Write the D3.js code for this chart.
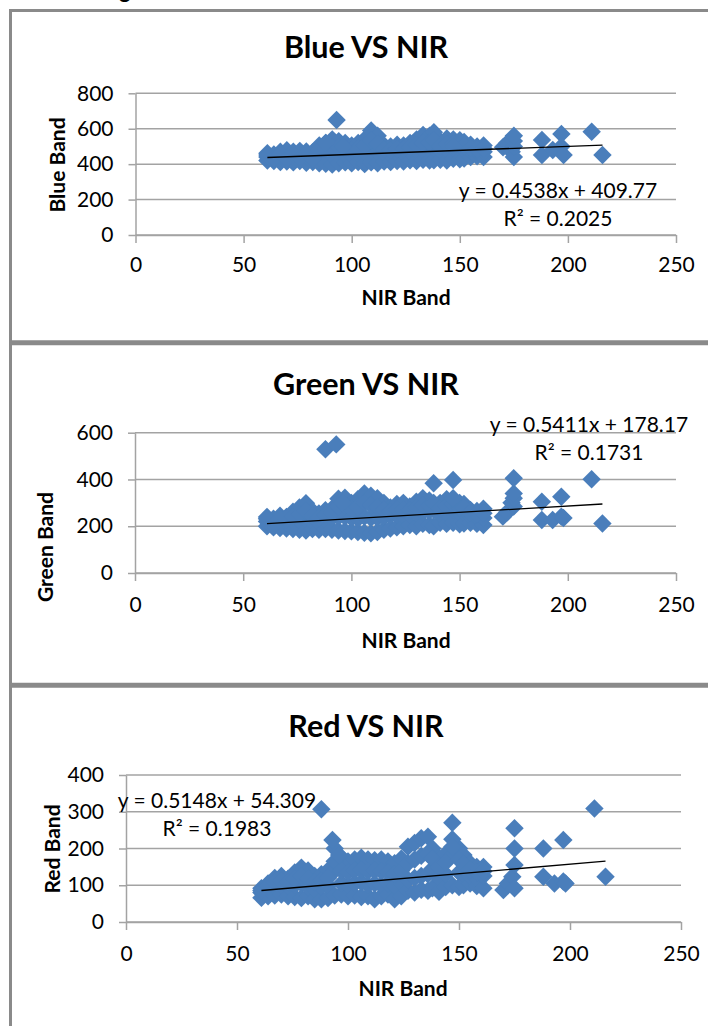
<!DOCTYPE html>
<html>
<head>
<meta charset="utf-8">
<script src="https://cdn.jsdelivr.net/npm/d3@7"></script>
<style>
  body { margin: 0; background: #fff; }
  text { font-family: Lato, 'Open Sans', sans-serif; fill: #000; }
</style>
</head>
<body>
<svg id="chart" width="708" height="1026"></svg>
<script>
// NIR band value of every pixel sample (shared by the three panels)
const nir = [
  61, 61, 61, 64, 64, 64, 67, 67, 67, 70, 70, 70, 73, 73, 73, 76, 76, 76,
  79, 79, 79, 82, 82, 82, 85, 85, 85, 88, 88, 88, 91, 91, 91, 94, 94, 94,
  97, 97, 97, 100, 100, 100, 103, 103, 103, 106, 106, 106, 109, 109, 109,
  112, 112, 112, 115, 115, 115, 118, 118, 118, 121, 121, 121, 124, 124, 124,
  127, 127, 127, 130, 130, 130, 133, 133, 133, 136, 136, 136, 138, 138, 138,
  141, 141, 141, 144, 144, 144, 147, 147, 147, 150, 150, 150, 152, 152, 152,
  155, 155, 155, 158, 158, 158, 161, 161, 161,
  61, 64, 67, 70, 73, 76, 79, 82, 85, 88, 91, 94, 97, 100, 103, 106, 109, 112,
  115, 118, 121, 124, 127, 130, 133, 136, 138, 141, 144, 147, 150, 152, 155, 158, 161,
  88, 93, 96, 147,
  170, 172, 174, 175, 175, 175, 175, 188, 188, 193, 197, 197, 198, 211, 216
];
const blue = [
  420, 440, 462, 418, 445, 455, 412, 440, 470, 415, 448, 478, 410, 440, 470, 418, 450, 475,
  408, 445, 472, 412, 448, 468, 405, 460, 505, 402, 455, 520, 398, 450, 540, 405, 460, 530,
  410, 455, 520, 405, 450, 505, 412, 460, 520, 400, 470, 540, 410, 480, 590,
  405, 470, 560, 415, 460, 505, 412, 455, 500, 418, 462, 510, 415, 465, 505,
  422, 470, 520, 418, 475, 540, 425, 480, 565, 420, 485, 560, 422, 490, 580,
  425, 475, 530, 420, 480, 545, 430, 490, 540, 428, 485, 535, 432, 480, 525,
  440, 475, 510, 445, 470, 500, 440, 470, 505,
  452, 432, 458, 430, 455, 435, 460, 430, 480, 488, 495, 495, 488, 478, 490, 505, 535, 515,
  482, 478, 485, 485, 495, 508, 520, 522, 535, 500, 512, 515, 510, 502, 492, 485, 488,
  520, 649, 500, 500,
  495, 520, 470, 440, 500, 530, 560, 536, 452, 480, 570, 500, 452, 583, 452
];
const green = [
  200, 220, 240, 195, 215, 232, 192, 218, 245, 190, 215, 240, 188, 222, 262, 185, 225, 280,
  182, 230, 298, 188, 220, 265, 185, 215, 255, 188, 228, 268, 185, 235, 275, 182, 240, 318,
  180, 240, 322, 178, 235, 300, 175, 232, 315, 172, 240, 340, 170, 235, 330,
  175, 235, 320, 185, 240, 300, 190, 245, 280, 195, 250, 295, 200, 245, 300,
  205, 250, 285, 200, 255, 305, 210, 260, 320, 205, 265, 310, 200, 270, 384,
  215, 250, 300, 210, 255, 315, 215, 270, 398, 208, 255, 300, 212, 260, 295,
  215, 245, 270, 210, 240, 265, 205, 235, 275,
  232, 205, 232, 228, 242, 252, 265, 245, 235, 248, 258, 285, 290, 275, 282, 300, 290, 282,
  270, 262, 272, 272, 268, 280, 290, 288, 300, 275, 285, 295, 278, 278, 258, 252, 255,
  529, 550, 300, 320,
  241, 260, 300, 284, 320, 340, 405, 305, 227, 227, 326, 241, 235, 401, 212
];
const red = [
  66, 80, 92, 70, 90, 105, 72, 95, 120, 75, 100, 125, 70, 98, 118, 68, 100, 135,
  65, 105, 148, 70, 95, 140, 62, 90, 125, 62, 95, 130, 65, 100, 140, 72, 140, 200,
  75, 105, 175, 70, 100, 165, 72, 105, 170, 68, 108, 175, 70, 100, 170,
  62, 105, 168, 70, 100, 170, 75, 105, 165, 62, 98, 160, 70, 105, 172,
  85, 115, 205, 80, 120, 215, 88, 125, 228, 85, 130, 232, 92, 145, 200,
  82, 120, 175, 95, 130, 185, 100, 182, 270, 95, 135, 200, 100, 130, 182,
  105, 125, 160, 98, 120, 150, 92, 125, 150,
  86, 98, 108, 112, 108, 118, 125, 118, 108, 112, 120, 165, 140, 135, 140, 142, 138, 140,
  138, 135, 130, 140, 160, 170, 180, 185, 172, 150, 162, 225, 170, 158, 142, 135, 138,
  307, 223, 182, 205,
  87, 105, 123, 92, 155, 200, 255, 200, 123, 105, 223, 110, 105, 309, 123
];

const bandNames = ['Blue', 'Green', 'Red'];
const yMax = [800, 600, 400];
const yStep = [200, 200, 100];
const xTicks = [0, 50, 100, 150, 200, 250];
const slopes = [0.4538, 0.5411, 0.5148];
const intercepts = [409.77, 178.17, 54.309];
const rSquared = ['0.2025', '0.1731', '0.1983'];

const bandValues = [blue, green, red];

// pixel layout of each panel
const layout = [
  {left: 135.5, right: 676, top: 93.3, bottom: 235, titleY: 58, xTitleX: 406, xTitleY: 305,
    yTitleX: 57, yTitleY: 165, eqX: 558, eqY: 198, tickPad: 14, yLabelGap: 15},
  {left: 135, right: 676, top: 432.7, bottom: 573, titleY: 395, xTitleX: 406, xTitleY: 648,
    yTitleX: 45, yTitleY: 547, eqX: 589, eqY: 432, tickPad: 16, yLabelGap: 15},
  {left: 126, right: 681, top: 775, bottom: 922, titleY: 737, xTitleX: 403, xTitleY: 996,
    yTitleX: 52, yTitleY: 849, eqX: 217, eqY: 808, tickPad: 16, yLabelGap: 15},
];

const gridColor = '#a3a3a3';
const markerColor = '#4a7ebb';

const svg = d3.select('svg#chart');

// caption fragment cut off at the top of the picture
svg.append('text')
  .attr('x', 101).attr('y', -2)
  .attr('font-size', 22).attr('font-weight', 'bold')
  .text('Fig');

// panel frames
const frame = svg.append('g').attr('stroke', '#8a8a8a').attr('fill', 'none');
frame.append('line').attr('x1', 10.5).attr('x2', 10.5).attr('y1', 9).attr('y2', 1026).attr('stroke-width', 3);
frame.append('line').attr('x1', 9).attr('x2', 708).attr('y1', 10.5).attr('y2', 10.5).attr('stroke-width', 3);
frame.append('line').attr('x1', 9).attr('x2', 708).attr('y1', 342.7).attr('y2', 342.7).attr('stroke-width', 5);
frame.append('line').attr('x1', 9).attr('x2', 708).attr('y1', 685.3).attr('y2', 685.3).attr('stroke-width', 5);

const diamond = d3.symbol(d3.symbolSquare, 170);

bandNames.forEach((band, i) => {
  const L = layout[i];
  const values = bandValues[i];
  const g = svg.append('g').attr('class', 'panel');

  const x = d3.scaleLinear().domain([0, 250]).range([L.left, L.right]);
  const y = d3.scaleLinear().domain([0, yMax[i]]).range([L.bottom, L.top]);
  const yTicks = d3.range(0, yMax[i] + 1, yStep[i]);

  // gridlines
  g.append('g').selectAll('line').data(yTicks).enter()
    .append('line')
    .attr('x1', L.left).attr('x2', L.right)
    .attr('y1', (d) => y(d)).attr('y2', (d) => y(d))
    .attr('stroke', gridColor).attr('stroke-width', 1.5);

  // axes
  const xAxis = g.append('g')
    .attr('transform', `translate(0, ${L.bottom})`)
    .call(d3.axisBottom(x).tickValues(xTicks).tickSize(8).tickSizeOuter(0).tickPadding(L.tickPad));
  const yAxis = g.append('g')
    .attr('transform', `translate(${L.left}, 0)`)
    .call(d3.axisLeft(y).tickValues(yTicks).tickSize(7).tickSizeOuter(0).tickPadding(L.yLabelGap));
  [xAxis, yAxis].forEach((ax) => {
    ax.selectAll('path, line').attr('stroke', gridColor).attr('stroke-width', 1.5);
    ax.selectAll('text').attr('font-size', 21).attr('font-family', 'Lato').attr('fill', '#000');
  });

  // points
  g.append('g').selectAll('path').data(nir).enter()
    .append('path')
    .attr('d', diamond)
    .attr('transform', (d, j) => `translate(${x(d)}, ${y(values[j])}) rotate(45)`)
    .attr('fill', markerColor);

  // linear trendline
  const ext = d3.extent(nir);
  g.append('path')
    .attr('d', d3.line()(ext.map((v) => [x(v), y(slopes[i] * v + intercepts[i])])))
    .attr('stroke', '#000').attr('stroke-width', 1.3).attr('fill', 'none');

  // titles
  g.append('text')
    .attr('x', 366).attr('y', L.titleY)
    .attr('text-anchor', 'middle').attr('font-size', 30.5).attr('font-weight', 'bold')
    .text(`${band} VS NIR`);
  g.append('text')
    .attr('x', L.xTitleX).attr('y', L.xTitleY)
    .attr('text-anchor', 'middle').attr('font-size', 21).attr('font-weight', 'bold')
    .text('NIR Band');
  g.append('text')
    .attr('transform', `translate(${L.yTitleX + 7.5}, ${L.yTitleY}) rotate(-90)`)
    .attr('text-anchor', 'middle').attr('font-size', 21).attr('font-weight', 'bold')
    .text(`${band} Band`);

  // trendline equation
  g.append('text')
    .attr('x', L.eqX).attr('y', L.eqY)
    .attr('text-anchor', 'middle').attr('font-size', 21)
    .text(`y = ${slopes[i]}x + ${intercepts[i]}`);
  g.append('text')
    .attr('x', L.eqX).attr('y', L.eqY + 28)
    .attr('text-anchor', 'middle').attr('font-size', 21)
    .text(`R² = ${rSquared[i]}`);
});
</script>
</body>
</html>
